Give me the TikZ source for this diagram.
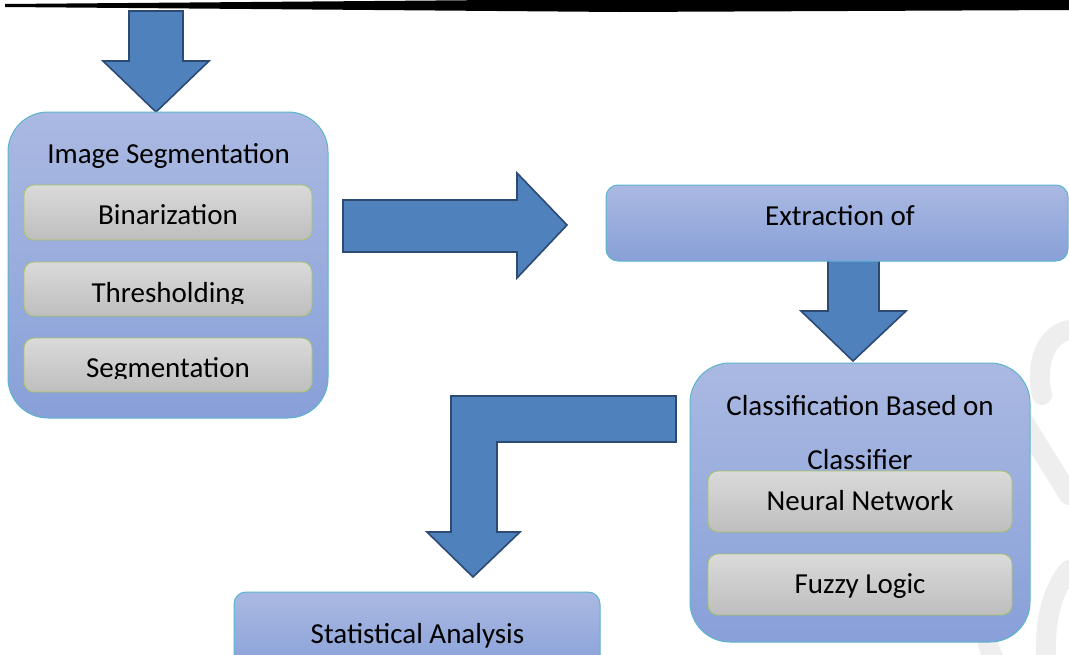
\documentclass[tikz,border=0pt]{standalone}
\usepackage{fontspec}
\setmainfont{Carlito}
\definecolor{boxtop}{HTML}{AAB9E2}
\definecolor{boxbot}{HTML}{88A0D8}
\definecolor{graytop}{HTML}{DADADA}
\definecolor{graybot}{HTML}{BEBEBE}
\definecolor{arrowfill}{HTML}{4F81BD}
\definecolor{arrowedge}{HTML}{2C4A72}
\definecolor{cyanedge}{HTML}{5BB5CD}
\definecolor{greenedge}{HTML}{A8C464}
\definecolor{wmgray}{HTML}{EEEEEE}
\tikzset{
  bigbox/.style={draw=cyanedge, line width=1pt, top color=boxtop, bottom color=boxbot, rounded corners=40pt, inner sep=0pt},
  flatbox/.style={draw=cyanedge, line width=1pt, top color=boxtop, bottom color=boxbot, rounded corners=12pt, inner sep=0pt},
  subbox/.style={draw=greenedge, line width=0.8pt, top color=graytop, bottom color=graybot, rounded corners=10pt, inner sep=0pt},
  flowarrow/.style={fill=arrowfill, draw=arrowedge, line width=1.6pt, line join=miter},
  lbl/.style={font=\fontsize{29}{35}\selectfont, anchor=base, inner sep=0pt},
  wm/.style={draw=wmgray, line width=20pt, line cap=round}
}
\begin{document}
\begin{tikzpicture}[x=1pt,y=-1pt]
\useasboundingbox (0,0) rectangle (1069,654);
\fill[white] (0,0) rectangle (1069,654);

% faint watermark
\begin{scope}
\clip (0,0) rectangle (1069,654);
\draw[wm] (1069,330) .. controls (1045,335) and (1035,365) .. (1042,395);
\draw[wm] (1010,400) -- (1069,495);
\draw[wm] (1069,570) .. controls (1052,590) and (1045,620) .. (1046,654);
\draw[wm] (988,645) -- (994,660);
\end{scope}

% top rule
\fill[black] (5,4) -- (620,-1) -- (1075,-1) -- (1075,10) -- (620,12) -- (5,7) -- cycle;

% block arrows
\draw[flowarrow] (129,11) -- (183,11) -- (183,61) -- (209,61) -- (156,112) -- (103,61) -- (129,61) -- cycle;
\draw[flowarrow] (343,200) -- (517,200) -- (517,173) -- (567,225) -- (517,278) -- (517,252) -- (343,252) -- cycle;
\draw[flowarrow] (828,258) -- (879,258) -- (879,311) -- (906,311) -- (853,361) -- (801,311) -- (828,311) -- cycle;
\draw[flowarrow] (676,396) -- (451,396) -- (451,532) -- (427,532) -- (473,577) -- (520,532) -- (497,532) -- (497,442) -- (676,442) -- cycle;

% Image segmentation group
\node[bigbox, minimum width=320pt, minimum height=306pt] (seg) at (168,265) {};
\node[lbl] (segT) at (168.5,163) {Image Segmentation};
\node[subbox, minimum width=288pt, minimum height=55pt] (bin) at (168,212.5) {};
\node[subbox, minimum width=288pt, minimum height=54pt] (thr) at (168,289) {};
\node[subbox, minimum width=288pt, minimum height=54pt] (sgm) at (168,365) {};
\node[lbl] (binT) at (168,224) {Binarization};
\begin{scope}
\clip (0,0) rectangle (1069,303.5);
\node[lbl] (thrT) at (168,302) {Thresholding};
\end{scope}
\begin{scope}
\clip (0,0) rectangle (1069,378.5);
\node[lbl] (sgmT) at (168,377) {Segmentation};
\end{scope}

% Extraction
\node[flatbox, minimum width=462pt, minimum height=76pt] (ext) at (837,223) {};
\node[lbl] (extT) at (840,225) {Extraction of};

% Classification group
\node[bigbox, minimum width=340pt, minimum height=279pt] (cls) at (860,502.5) {};
\node[lbl] (clsT1) at (860,415) {Classification Based on};
\node[lbl] (clsT2) at (860,469) {Classifier};
\node[subbox, minimum width=304pt, minimum height=61pt] (nn) at (860,501.5) {};
\node[subbox, minimum width=304pt, minimum height=61pt] (fz) at (860,584.5) {};
\node[lbl] (nnT) at (860,510) {Neural Network};
\node[lbl] (fzT) at (860,593) {Fuzzy Logic};

% Statistical analysis
\node[flatbox, minimum width=366pt, minimum height=80pt] (stat) at (417,632) {};
\node[lbl] (statT) at (417.5,643) {Statistical Analysis};
\end{tikzpicture}
\end{document}
